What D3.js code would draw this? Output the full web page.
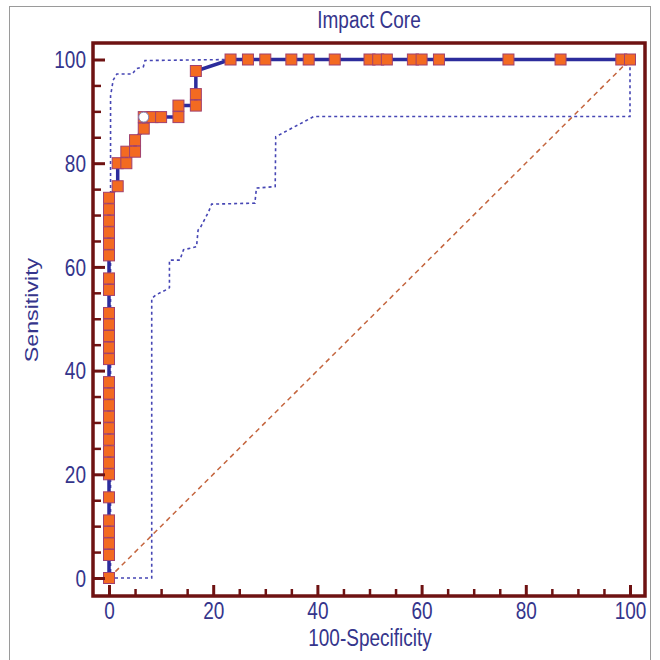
<!DOCTYPE html>
<html><head><meta charset="utf-8">
<script src="https://cdn.jsdelivr.net/npm/d3@7"></script>
<style>body{margin:0;background:#fff}svg{display:block}</style>
</head><body><svg id="c" width="660" height="660"></svg>
<script>
// ROC curve points (100-Specificity, Sensitivity)
const fpr = [0,0,0,0,0,0,0,0,0,0,0,0,0,0,0,0,0,0,0,0,0,0,0,0,0,0,0,0,
  1.67,1.67,3.33,3.33,5,5,6.67,6.67,8.33,10,13.33,13.33,16.67,16.67,16.67,
  23.33,26.67,30,35,38.33,43.33,50,51.67,53.33,58.33,60,63.33,76.67,86.67,98.33,100];
const sens = [0,4.44,6.67,8.89,11.11,15.56,20,22.22,24.44,26.67,28.89,31.11,33.33,35.56,37.78,
  42.22,44.44,46.67,48.89,51.11,55.56,57.78,62.22,64.44,66.67,68.89,71.11,73.33,
  75.56,80,80,82.22,82.22,84.44,86.67,88.89,88.89,88.89,88.89,91.11,91.11,93.33,97.78,
  100,100,100,100,100,100,100,100,100,100,100,100,100,100,100,100];
const optimal = [6.67, 88.89];
// Confidence bands
const upperX = [0.3,0.3,0.8,1.5,4.5,5.2,6.6,6.9,23.33];
const upperY = [0,93,96,97.2,97.2,98.2,98.6,99.8,100];
const lowerX = [0,8.2,8.2,9,11.2,11.6,11.6,13.6,14.3,16.8,17.1,17.5,19.1,19.7,28,28.3,31.9,32,39.3,100,100];
const lowerY = [0,0,53.9,54.6,55.7,56,61.3,61.3,63.3,63.9,67.1,67.5,70.6,72.1,72.3,75.2,75.5,85.1,89,89,100];
const majorTicks = [0,20,40,60,80,100];
const minorTicks = [5,10,15,25,30,35,45,50,55,65,70,75,85,90,95];

const svg = d3.select("#c");
const txt = "#35358c", axc = "#6e1212";
const font = "Liberation Sans, Arial, sans-serif";
const FS = 19, ST = 1.22;

// outer thin border
svg.append("rect").attr("x",9.5).attr("y",6.5).attr("width",641).attr("height",670)
  .attr("fill","none").attr("stroke","#9a9a9a").attr("stroke-width",1);

const x = d3.scaleLinear().domain([0,100]).range([109,630]);
const y = d3.scaleLinear().domain([0,100]).range([578,59.5]);
const L=93, R=645, T=43, B=596;

// diagonal
svg.append("line").attr("x1",x(0)).attr("y1",y(0)).attr("x2",x(100)).attr("y2",y(100))
  .attr("stroke","#c4653e").attr("stroke-width",1.5).attr("stroke-dasharray","5,4");

const line = d3.line().x(d=>x(d[0])).y(d=>y(d[1]));
const band = (xs,ys)=>xs.map((v,i)=>[v,ys[i]]);
[[upperX,upperY],[lowerX,lowerY]].forEach(([a,b])=>{
  svg.append("path").attr("d",line(band(a,b))).attr("fill","none")
    .attr("stroke","#4646b4").attr("stroke-width",1.6).attr("stroke-dasharray","3,3");
});

// curve
const pts = fpr.map((v,i)=>[v,sens[i]]);
svg.append("path").attr("d",line(pts)).attr("fill","none")
  .attr("stroke","#2c2c9c").attr("stroke-width",3.5);

const s=11;
svg.append("g").selectAll("rect").data(pts).join("rect")
  .attr("x",d=>x(d[0])-s/2).attr("y",d=>y(d[1])-s/2).attr("width",s).attr("height",s)
  .attr("fill","#f36a21").attr("stroke","#a0406e").attr("stroke-width",1);

svg.append("circle").attr("cx",x(optimal[0])).attr("cy",y(optimal[1])).attr("r",5)
  .attr("fill","#fff").attr("stroke","#8080b0").attr("stroke-width",1);

// axes
function lines(g,w){ g.select(".domain").remove();
  g.selectAll(".tick line").attr("stroke",axc).attr("stroke-width",w); }
svg.append("g").attr("transform",`translate(0,${B})`)
  .call(d3.axisBottom(x).tickValues(minorTicks).tickSize(-7).tickFormat(""))
  .call(g=>lines(g,2.5));
svg.append("g").attr("transform",`translate(0,${B})`)
  .call(d3.axisBottom(x).tickValues(majorTicks).tickSize(-11).tickFormat(d3.format("d")))
  .call(g=>{ lines(g,3);
    g.selectAll("text").attr("y",null).attr("dy","0.35em")
      .attr("transform",`translate(0,15) scale(1,${ST})`)
      .attr("fill",txt).attr("font-family",font).attr("font-size",FS); });
svg.append("g").attr("transform",`translate(${L},0)`)
  .call(d3.axisLeft(y).tickValues(minorTicks).tickSize(-8).tickFormat(""))
  .call(g=>lines(g,2.5));
svg.append("g").attr("transform",`translate(${L},0)`)
  .call(d3.axisLeft(y).tickValues(majorTicks).tickSize(-12).tickFormat(d3.format("d")))
  .call(g=>{ lines(g,3);
    g.selectAll("text").attr("x",null).attr("dy","0.35em")
      .attr("transform",`translate(-7,0) scale(1,${ST})`)
      .attr("fill",txt).attr("font-family",font).attr("font-size",FS); });

svg.append("rect").attr("x",L).attr("y",T).attr("width",R-L).attr("height",B-T)
  .attr("fill","none").attr("stroke",axc).attr("stroke-width",3.5);

function label(t, tr){
  svg.append("text").attr("transform",tr).attr("text-anchor","middle").attr("dy","0.35em")
    .attr("fill",txt).attr("font-family",font).attr("font-size",FS).text(t);
}
label("Impact Core", `translate(369,20) scale(1,${ST})`);
label("100-Specificity", `translate(370,638) scale(1,${ST})`);
label("Sensitivity", `translate(31,310) scale(1,${ST}) rotate(-90)`);
</script></body></html>
